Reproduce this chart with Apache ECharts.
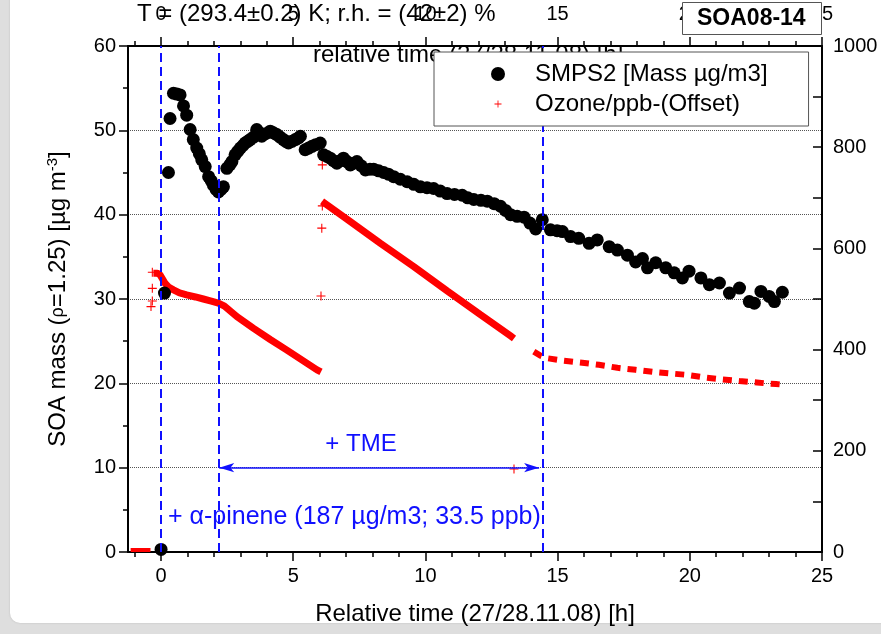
<!DOCTYPE html>
<html><head><meta charset="utf-8">
<script src="https://cdn.jsdelivr.net/npm/echarts@6/dist/echarts.min.js"></script>
<style>
html,body{margin:0;padding:0;background:#dedede;width:881px;height:634px;overflow:hidden;}
#card{position:absolute;left:10px;top:-12px;width:885px;height:635px;background:#fff;border-radius:10px;box-shadow:0 0 2px #bbb;}
#chart{position:absolute;left:0;top:0;width:881px;height:634px;}
</style></head><body>
<div id="card"></div><div id="chart"></div>
<script>
// ---- tick labels ----
const xMajorTicks = [0, 5, 10, 15, 20, 25];
const xMinorTicks = [-1, 1, 2, 3, 4, 6, 7, 8, 9, 11, 12, 13, 14, 16, 17, 18, 19, 21, 22, 23, 24];
// ---- SMPS2 mass (left axis, µg/m3) ----
const smpsTime = [0.0,0.13,0.28,0.34,0.47,0.6,0.72,0.85,0.97,1.1,1.22,1.35,1.45,1.54,1.67,1.8,1.9,1.98,2.08,2.17,2.27,2.36,2.49,2.6,2.68,2.8,2.9,3.0,3.1,3.18,3.28,3.37,3.5,3.62,3.72,3.81,3.95,4.13,4.25,4.38,4.5,4.63,4.72,4.82,4.95,5.08,5.2,5.27,5.45,5.58,5.71,5.85,6.02,6.15,6.28,6.4,6.52,6.65,6.78,6.9,7.03,7.16,7.28,7.41,7.57,7.73,7.9,8.04,8.23,8.42,8.6,8.8,9.05,9.31,9.56,9.81,10.06,10.31,10.56,10.82,11.1,11.39,11.6,11.83,12.1,12.34,12.6,12.84,13.03,13.22,13.47,13.73,13.95,14.17,14.42,14.73,14.98,15.18,15.49,15.8,16.19,16.5,16.95,17.26,17.64,17.95,18.21,18.4,18.71,19.09,19.41,19.72,19.97,20.42,20.74,21.12,21.5,21.88,22.25,22.44,22.69,23.0,23.2,23.5];
const smpsMass = [0.3,30.7,45.0,51.4,54.4,54.3,54.2,52.9,51.8,50.1,48.9,47.9,47.2,46.5,45.7,44.5,44.0,43.5,43.0,42.7,43.0,43.3,45.5,45.9,46.3,47.1,47.5,47.9,48.2,48.5,48.7,48.9,49.2,50.1,49.7,49.3,49.6,49.9,49.7,49.5,49.2,48.9,48.7,48.5,48.7,48.9,49.1,49.3,47.7,47.9,48.1,48.3,48.5,47.1,46.9,46.7,46.4,46.1,46.4,46.7,46.3,45.9,46.1,46.3,45.8,45.3,45.4,45.4,45.2,45.0,44.8,44.5,44.2,43.9,43.6,43.3,43.2,43.1,42.8,42.5,42.4,42.3,42.0,41.8,41.7,41.6,41.3,41.0,40.5,40.0,39.8,39.7,39.0,38.3,39.4,38.2,38.1,38.0,37.4,37.2,36.6,37.0,36.2,35.8,35.2,34.4,34.8,33.7,34.3,33.7,33.1,32.5,33.3,32.5,31.7,31.9,30.7,31.3,29.7,29.5,30.9,30.3,29.7,30.8];
// ---- Ozone/ppb-(Offset) (right axis) ----
const ozoneOffTime = [-1.15, -0.9, -0.65, -0.4];
const ozoneOffVal  = [4, 4, 4, 4];
const ozone1Time = [-0.29,-0.15,-0.04,0.05,0.15,0.3,0.47,0.7,0.97,1.3,1.6,1.9,2.17,2.4,2.87,3.5,4.13,4.76,5.9,6.05];
const ozone1Val  = [551,551,548,540,531,523,518,512,508,504,500,496,492,486,465,442,420,399,360,356];
const ozone2Time = [6.09, 7.03, 8.3, 9.56, 10.82, 12.08, 13.22, 13.35];
const ozone2Val  = [693, 658, 610, 564, 516, 469, 427, 422];
const ozone3Time = [14.1,14.35,14.6,15.24,15.93,16.56,17.26,17.95,18.59,19.22,19.91,20.54,21.21,21.87,22.54,22.94,23.26,23.64];
const ozone3Val  = [396,388,383,378,374,370,364,360,356,353,350,345,341,338,335,333,332,330];
const ozoneOutTime = [-0.33,-0.33,-0.33,-0.38,6.1,6.1,6.08,6.05,13.35];
const ozoneOutVal  = [553,521,496,485,765,684,640,506,164];
// ---- events ----
const eventTimes = [0, 2.2, 14.43];
const tmeStart = 2.2, tmeEnd = 14.3, tmeLevel = 10;

const zip = (a, b) => a.map((v, i) => [v, b[i]]);
const FONT = '"Liberation Sans", Arial, sans-serif';
const plusPath = 'path://M0,0h0.05v0.05h-0.05z M19.95,19.95h0.05v0.05h-0.05z M9.4,5h1.2v4.4h4.4v1.2h-4.4v4.4h-1.2v-4.4h-4.4v-1.2h4.4z';
const BLUE = '#1010ff', RED = '#ff0000';

const xBase = {type: 'value', min: -1.25, max: 25, splitLine: {show: false}};
const lblStyle = {fontSize: 20, color: '#000', fontFamily: FONT};

const chart = echarts.init(document.getElementById('chart'), null, {renderer: 'canvas'});
chart.setOption({
  animation: false,
  textStyle: {fontFamily: FONT},
  grid: {left: 128, right: 59, top: 46, bottom: 82, containLabel: false, outerBoundsMode: 'none'},
  title: {
    text: 'SOA08-14', left: 682, top: 2, padding: [5, 16, 5, 15],
    borderWidth: 1, borderColor: '#555', backgroundColor: '#fff', z: 12,
    textStyle: {fontSize: 23, fontWeight: 'bold', color: '#000', fontFamily: FONT}
  },
  legend: {
    data: ['SMPS2 [Mass µg/m3]', 'Ozone/ppb-(Offset)'],
    orient: 'vertical', left: 434, top: 52, padding: [9, 41, 9, 57], itemGap: 4,
    itemWidth: 14, itemHeight: 14, backgroundColor: '#fff', borderColor: '#555', borderWidth: 1,
    selectedMode: false, z: 10,
    textStyle: {fontSize: 24, color: '#000', fontFamily: FONT, lineHeight: 26, padding: [0, 0, 0, 25]}
  },
  xAxis: [
    Object.assign({}, xBase, {
      position: 'bottom',
      axisLine: {show: true, onZero: false, lineStyle: {color: '#000', width: 2}},
      axisTick: {show: true, customValues: xMajorTicks, length: 9, lineStyle: {color: '#000', width: 1.5}},
      axisLabel: Object.assign({customValues: xMajorTicks, margin: 14}, lblStyle),
      name: 'Relative time (27/28.11.08) [h]', nameLocation: 'middle', nameGap: 50,
      nameTextStyle: {fontSize: 24, color: '#000', fontFamily: FONT}
    }),
    Object.assign({}, xBase, {
      position: 'bottom', axisLine: {show: false, onZero: false},
      axisTick: {show: true, customValues: xMinorTicks, length: 5, lineStyle: {color: '#000', width: 1.5}},
      axisLabel: {show: false}
    }),
    Object.assign({}, xBase, {
      position: 'top',
      axisLine: {show: true, onZero: false, lineStyle: {color: '#000', width: 2}},
      axisTick: {show: true, customValues: xMajorTicks, length: 9, lineStyle: {color: '#000', width: 1.5}},
      axisLabel: Object.assign({customValues: xMajorTicks, margin: 22}, lblStyle)
    }),
    Object.assign({}, xBase, {
      position: 'top', axisLine: {show: false, onZero: false},
      axisTick: {show: true, customValues: xMinorTicks, length: 5, lineStyle: {color: '#000', width: 1.5}},
      axisLabel: {show: false}
    })
  ],
  yAxis: [
    {
      type: 'value', position: 'left', min: 0, max: 60, interval: 10,
      axisLine: {show: true, onZero: false, lineStyle: {color: '#000', width: 2}},
      axisTick: {show: true, length: 9, lineStyle: {color: '#000', width: 1.5}},
      minorTick: {show: true, splitNumber: 2, length: 5, lineStyle: {color: '#000', width: 1.5}},
      splitLine: {show: true, lineStyle: {type: 'dotted', color: '#555', width: 1}},
      axisLabel: Object.assign({margin: 12}, lblStyle),
      name: 'SOA mass ({r|ρ}=1.25) [µg m{s|-3}]', nameLocation: 'middle', nameGap: 56, nameRotate: 90,
      nameTextStyle: {fontSize: 24, color: '#000', fontFamily: FONT,
        rich: {r: {fontSize: 18, color: '#000', fontFamily: FONT},
               s: {fontSize: 15, color: '#000', fontFamily: FONT, padding: [0, 0, 12, 0]}}}
    },
    {
      type: 'value', position: 'right', min: 0, max: 1000, interval: 200,
      axisLine: {show: true, onZero: false, lineStyle: {color: '#000', width: 2}},
      axisTick: {show: true, inside: true, length: 9, lineStyle: {color: '#000', width: 1.5}},
      minorTick: {show: true, splitNumber: 2, length: 9, lineStyle: {color: '#000', width: 1.5}},
      splitLine: {show: false},
      axisLabel: Object.assign({margin: 11, formatter: v => String(v)}, lblStyle)
    }
  ],
  series: [
    {
      name: 'ozone-offset', type: 'line', yAxisIndex: 1, showSymbol: false, z: 2,
      data: zip(ozoneOffTime, ozoneOffVal), lineStyle: {color: RED, width: 4}
    },
    {
      name: 'ozone-seg1', type: 'line', yAxisIndex: 1, showSymbol: false, z: 2,
      data: zip(ozone1Time, ozone1Val), lineStyle: {color: RED, width: 7}
    },
    {
      name: 'ozone-seg2', type: 'line', yAxisIndex: 1, showSymbol: false, z: 2,
      data: zip(ozone2Time, ozone2Val), lineStyle: {color: RED, width: 7}
    },
    {
      name: 'ozone-seg3', type: 'line', yAxisIndex: 1, showSymbol: false, z: 2,
      data: zip(ozone3Time, ozone3Val), lineStyle: {color: RED, width: 6, type: [9, 7]}
    },
    {
      name: 'Ozone/ppb-(Offset)', type: 'scatter', yAxisIndex: 1, symbol: plusPath, symbolSize: 18, z: 3,
      data: zip(ozoneOutTime, ozoneOutVal), itemStyle: {color: RED, opacity: 1}
    },
    {
      name: 'SMPS2 [Mass µg/m3]', type: 'scatter', symbol: 'circle', symbolSize: 13, z: 4,
      data: zip(smpsTime, smpsMass), itemStyle: {color: '#000', opacity: 1}
    },
    {
      name: 'events', type: 'line', data: [], z: 6,
      markLine: {
        silent: true, symbol: ['none', 'none'], label: {show: false}, z: 6,
        lineStyle: {color: BLUE, type: [9, 5], width: 2},
        data: eventTimes.map(t => ({xAxis: t}))
      }
    },
    {
      name: 'tme', type: 'line', data: [], z: 6,
      markLine: {
        silent: true, symbol: ['arrow', 'arrow'], symbolSize: [7, 15], label: {show: false}, z: 6,
        lineStyle: {color: BLUE, type: 'solid', width: 1.5},
        data: [[{coord: [tmeStart, tmeLevel]}, {coord: [tmeEnd, tmeLevel]}]]
      }
    }
  ],
  graphic: [
    {type: 'text', x: 313, y: 55, z: 3,
     style: {text: 'relative time (27/28.11.08) [h]', fontSize: 24, fontFamily: FONT, fill: '#000', verticalAlign: 'middle'}},
    {type: 'text', x: 137, y: 14, z: 20,
     style: {text: 'T = (293.4±0.2) K; r.h. = (42±2) %', fontSize: 24, fontFamily: FONT, fill: '#000', verticalAlign: 'middle'}},
    {type: 'text', x: 361, y: 444, z: 20,
     style: {text: '+ TME', fontSize: 24, fontFamily: FONT, fill: BLUE, align: 'center', verticalAlign: 'middle'}},
    {type: 'text', x: 168, y: 517, z: 20,
     style: {text: '+ α-pinene (187 µg/m3; 33.5 ppb)', fontSize: 25, fontFamily: FONT, fill: BLUE, verticalAlign: 'middle'}}
  ]
});
</script>
</body></html>
